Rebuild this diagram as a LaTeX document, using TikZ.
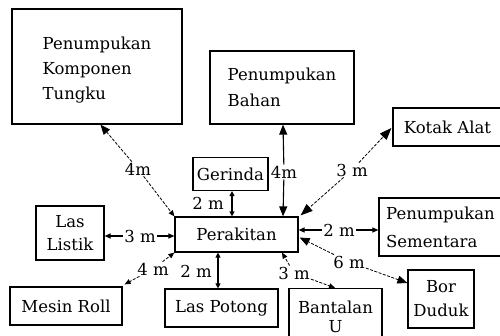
\documentclass[tikz,border=0pt]{standalone}
\usepackage{fontspec}
\setmainfont{DejaVu Serif}
\usetikzlibrary{arrows.meta,calc}
\begin{document}
\begin{tikzpicture}[x=1pt,y=-1pt,
  box/.style={draw, line width=1.2pt, inner sep=0pt, font=\fontsize{16.5}{25}\selectfont},
  lbl/.style={font=\fontsize{16.5}{20}\selectfont, inner sep=1pt, fill=white},
  solidc/.style={line width=1.1pt},
  dashc/.style={line width=0.8pt, dash pattern=on 3pt off 1.5pt},
  bigtip/.style={-{Triangle[length=10pt,width=8pt]}},
  hugetip/.style={-{Triangle[length=12pt,width=9pt]}},
  smalltip/.style={-{Triangle[length=6pt,width=5pt]}},
  bothsmall/.style={{Triangle[length=5pt,width=5pt]}-{Triangle[length=5pt,width=5pt]}},
]
\useasboundingbox (0,0) rectangle (500,336);

% boxes
\node[box, minimum width=170pt, minimum height=115pt, align=left] (tungku) at (97,66.5) {\rule{0pt}{6pt}\\[-12pt]Penumpukan\\Komponen\\Tungku};
\node[box, minimum width=144pt, minimum height=73pt, align=left, font=\fontsize{16.5}{26}\selectfont] (bahan) at (282,87.5) {Penumpukan\\Bahan};
\node[box, minimum width=109pt, minimum height=38pt] (kotak) at (447.5,127) {Kotak Alat};
\node[box, minimum width=75pt, minimum height=33pt] (gerinda) at (230.5,174) {Gerinda};
\node[box, minimum width=123pt, minimum height=35pt] (perakitan) at (236.5,234.5) {Perakitan};
\node[box, minimum width=68pt, minimum height=54pt, align=center, font=\fontsize{16.5}{23}\selectfont] (listik) at (70,233) {Las\\Listik};
\node[box, minimum width=112pt, minimum height=38pt] (roll) at (66,306) {Mesin Roll};
\node[box, minimum width=113pt, minimum height=38pt] (potong) at (221.5,308) {Las Potong};
\node[box, minimum width=93pt, minimum height=56pt, align=center, font=\fontsize{16.5}{19}\selectfont] (bantalan) at (335.5,316.5) {Bantalan\\U};
\node[box, minimum width=123pt, minimum height=58pt, align=left, font=\fontsize{16.5}{28}\selectfont] (sementara) at (440.5,227) {Penumpukan\\Sementara};
\node[box, minimum width=66pt, minimum height=58pt, align=center, font=\fontsize{16.5}{24}\selectfont] (bor) at (441,299) {Bor\\Duduk};

% anchor points
\coordinate (t1) at ($(tungku.south west)+(89,0)$);
\coordinate (b1) at (bahan.south -| 283,0);
\coordinate (b2) at (perakitan.north -| 283,0);
\coordinate (k1) at ($(kotak.west)+(-1,1)$);
\coordinate (k2) at ($(perakitan.north east)+(2,-1)$);
\coordinate (g1) at (gerinda.south -| 232,0);
\coordinate (g2) at (perakitan.north -| 232,0);
\coordinate (s1) at (sementara.west |- 0,230);
\coordinate (s2) at (perakitan.east |- 0,230);
\coordinate (d1) at ($(perakitan.east)+(1,3)$);
\coordinate (d2) at (bor.west |- 0,283);
\coordinate (u1) at (perakitan.south -| 282,0);
\coordinate (u2) at (bantalan.north -| 335,0);
\coordinate (p1) at (perakitan.south -| 218,0);
\coordinate (p2) at (potong.north -| 218,0);
\coordinate (r2) at ($(roll.north east)+(2,-2)$);
\coordinate (e1) at (listik.east |- 0,236);
\coordinate (e2) at (perakitan.west |- 0,236);

% labels
\node[lbl] (l1) at (138,169) {4m};
\node[lbl] (l2) at (284,172) {4m};
\node[lbl] (l3) at (352,170) {3 m};
\node[lbl] (l4) at (208,203) {2 m};
\node[lbl] (l5) at (140,236) {3 m};
\node[lbl] (l6) at (339,230) {2 m};
\node[lbl] (l7) at (349,262) {6 m};
\node[lbl] (l8) at (294,273) {3 m};
\node[lbl] (l9) at (196,271) {2 m};
\node[lbl] (l10) at (153,269) {4 m};

% connectors
\draw[dashc, bigtip] (l1) -- (t1);
\draw[dashc, smalltip] (l1) -- (perakitan.north west);
\draw[solidc, bigtip] (l2) -- (b1);
\draw[solidc, bigtip] (l2) -- (b2);
\draw[dashc, hugetip] (l3) -- (k1);
\draw[dashc, hugetip] (l3) -- (k2);
\draw[solidc, bothsmall] (g1) -- (g2);
\draw[solidc, smalltip] (l5) -- (e1);
\draw[solidc, smalltip] (l5) -- (e2);
\draw[solidc, smalltip] (l6) -- (s1);
\draw[solidc, smalltip] (l6) -- (s2);
\draw[dashc, bigtip] (l7) -- (d1);
\draw[dashc, bigtip] (l7) -- (d2);
\draw[dashc, smalltip] (l8) -- (u1);
\draw[dashc, smalltip] (l8) -- (u2);
\draw[solidc, bothsmall] (p1) -- (p2);
\draw[dashc, smalltip] (l10) -- (perakitan.south west);
\draw[dashc, smalltip] (l10) -- (r2);
\end{tikzpicture}
\end{document}
